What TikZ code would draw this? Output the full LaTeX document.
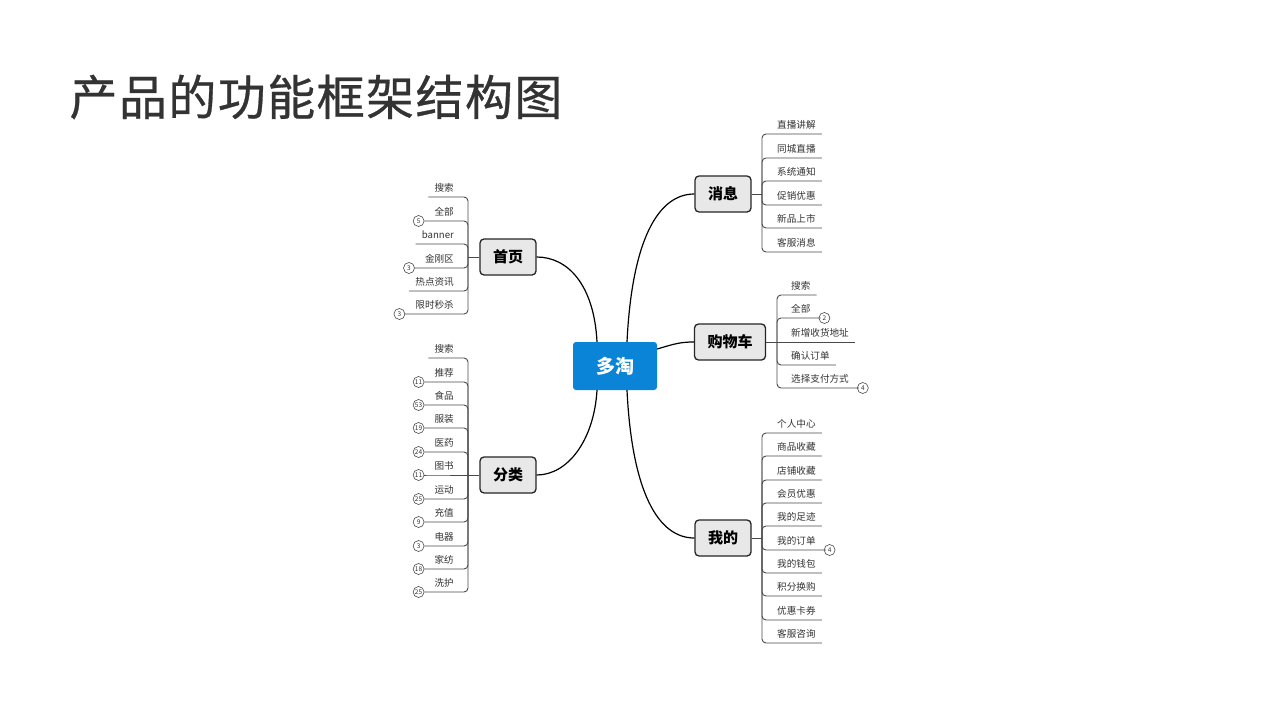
\documentclass[tikz,border=0pt]{standalone}
\usepackage{fontspec}
\setmainfont{Noto Sans CJK SC}
\usetikzlibrary{calc}
\definecolor{TaoBlue}{HTML}{0A84D6}
\definecolor{TaoGray}{HTML}{E8E8E8}
\definecolor{TaoInk}{HTML}{333333}
\definecolor{TaoLine}{HTML}{4A4A4A}

\begin{document}
\begin{tikzpicture}[x=1pt,y=-1pt,
  hub/.style={fill=TaoBlue,rounded corners=3pt,minimum width=84pt,minimum height=48pt,text=white,font=\fontsize{19}{19}\selectfont\bfseries},
  branch/.style={draw=black!85,fill=TaoGray,line width=1.3pt,rounded corners=4pt,inner xsep=13pt,minimum height=36pt,font=\fontsize{15}{15}\selectfont\bfseries},
  leaf/.style={text=TaoInk,inner xsep=6pt,inner ysep=3pt,text height=8pt,text depth=2pt,font=\fontsize{9.6}{10}\selectfont},
  leafL/.style={leaf,anchor=south east},
  leafR/.style={leaf,anchor=south west},
  badge/.style={draw=TaoLine,circle,line width=0.6pt,inner sep=0pt,minimum size=11pt,text=TaoInk,font=\fontsize{6.5}{6.5}\selectfont},
  twig/.style={TaoLine,line width=0.9pt,rounded corners=4pt},
  limb/.style={black,line width=1.2pt}]
  \path[use as bounding box,fill=white] (0,0) rectangle (1280,720);

  % title
  \node[anchor=west,text=TaoInk,font=\fontsize{48}{48}\selectfont\addfontfeatures{LetterSpace=3,FakeBold=0.6}] (title) at (66,97) {产品的功能框架结构图};

  % hub and branches
  \node[hub] (dt) at (615,366) {多淘};
  \node[branch] (sy) at (508,257) {首页};
  \node[branch] (fl) at (508,475) {分类};
  \node[branch] (xx) at (723,194) {消息};
  \node[branch] (gw) at (730,342) {购物车};
  \node[branch] (wd) at (723,538) {我的};

  \draw[limb] ($(dt.north)+(-18,0)$) .. controls (594,285) and (568,257) .. (sy.east);
  \draw[limb] ($(dt.south)+(-18,0)$) .. controls (594,440) and (568,475) .. (fl.east);
  \draw[limb] ($(dt.north)+(12,0)$) .. controls (632,240) and (658,194) .. (xx.west);
  \draw[limb] ($(dt.east)+(0,-17)$) .. controls (674,344) and (680,342) .. (gw.west);
  \draw[limb] ($(dt.south)+(12,0)$) .. controls (632,492) and (658,538) .. (wd.west);

  % 首页
  \coordinate (syJ) at (468,257);
  \node[leafL] (sy1) at (460,197) {搜索};
  \node[leafL] (sy2) at (460,221) {全部};
  \node[leafL] (sy3) at (460,244) {banner};
  \node[leafL] (sy4) at (460,268) {金刚区};
  \node[leafL] (sy5) at (460,291) {热点资讯};
  \node[leafL] (sy6) at (460,314) {限时秒杀};
  \node[badge,anchor=east] (sy2b) at ($(sy2.south west)+(-4,0)$) {5};
  \node[badge,anchor=east] (sy4b) at ($(sy4.south west)+(-4,0)$) {3};
  \node[badge,anchor=east] (sy6b) at ($(sy6.south west)+(-4,0)$) {3};
  \draw[twig] (sy.west) -- (syJ);
  \draw[twig] (syJ) |- (sy1.south west);
  \draw[twig] (syJ) |- (sy2.south west) -- (sy2b.east);
  \draw[twig] (syJ) |- (sy3.south west);
  \draw[twig] (syJ) |- (sy4.south west) -- (sy4b.east);
  \draw[twig] (syJ) |- (sy5.south west);
  \draw[twig] (syJ) |- (sy6.south west) -- (sy6b.east);

  % 分类
  \coordinate (flJ) at (468,475);
  \node[leafL] (fl1) at (460,358) {搜索};
  \node[leafL] (fl2) at (460,382) {推荐};
  \node[leafL] (fl3) at (460,405) {食品};
  \node[leafL] (fl4) at (460,428) {服装};
  \node[leafL] (fl5) at (460,452) {医药};
  \node[leafL] (fl6) at (460,475) {图书};
  \node[leafL] (fl7) at (460,499) {运动};
  \node[leafL] (fl8) at (460,522) {充值};
  \node[leafL] (fl9) at (460,546) {电器};
  \node[leafL] (fl10) at (460,569) {家纺};
  \node[leafL] (fl11) at (460,592) {洗护};
  \node[badge,anchor=east] (fl2b) at ($(fl2.south west)+(-4,0)$) {11};
  \node[badge,anchor=east] (fl3b) at ($(fl3.south west)+(-4,0)$) {53};
  \node[badge,anchor=east] (fl4b) at ($(fl4.south west)+(-4,0)$) {19};
  \node[badge,anchor=east] (fl5b) at ($(fl5.south west)+(-4,0)$) {24};
  \node[badge,anchor=east] (fl6b) at ($(fl6.south west)+(-4,0)$) {11};
  \node[badge,anchor=east] (fl7b) at ($(fl7.south west)+(-4,0)$) {25};
  \node[badge,anchor=east] (fl8b) at ($(fl8.south west)+(-4,0)$) {9};
  \node[badge,anchor=east] (fl9b) at ($(fl9.south west)+(-4,0)$) {3};
  \node[badge,anchor=east] (fl10b) at ($(fl10.south west)+(-4,0)$) {18};
  \node[badge,anchor=east] (fl11b) at ($(fl11.south west)+(-4,0)$) {25};
  \draw[twig] (fl.west) -- (flJ);
  \draw[twig] (flJ) |- (fl1.south west);
  \draw[twig] (flJ) |- (fl2.south west) -- (fl2b.east);
  \draw[twig] (flJ) |- (fl3.south west) -- (fl3b.east);
  \draw[twig] (flJ) |- (fl4.south west) -- (fl4b.east);
  \draw[twig] (flJ) |- (fl5.south west) -- (fl5b.east);
  \draw[twig] (flJ) -- (fl6.south west) -- (fl6b.east);
  \draw[twig] (flJ) |- (fl7.south west) -- (fl7b.east);
  \draw[twig] (flJ) |- (fl8.south west) -- (fl8b.east);
  \draw[twig] (flJ) |- (fl9.south west) -- (fl9b.east);
  \draw[twig] (flJ) |- (fl10.south west) -- (fl10b.east);
  \draw[twig] (flJ) |- (fl11.south west) -- (fl11b.east);

  % 消息
  \coordinate (xxJ) at (762,194);
  \node[leafR] (xx1) at (771,134) {直播讲解};
  \node[leafR] (xx2) at (771,158) {同城直播};
  \node[leafR] (xx3) at (771,181) {系统通知};
  \node[leafR] (xx4) at (771,205) {促销优惠};
  \node[leafR] (xx5) at (771,228) {新品上市};
  \node[leafR] (xx6) at (771,252) {客服消息};
  \draw[twig] (xx.east) -- (xxJ);
  \draw[twig] (xxJ) |- (xx1.south east);
  \draw[twig] (xxJ) |- (xx2.south east);
  \draw[twig] (xxJ) |- (xx3.south east);
  \draw[twig] (xxJ) |- (xx4.south east);
  \draw[twig] (xxJ) |- (xx5.south east);
  \draw[twig] (xxJ) |- (xx6.south east);

  % 购物车
  \coordinate (gwJ) at (777,342);
  \node[leafR] (gw1) at (785,295) {搜索};
  \node[leafR] (gw2) at (785,318) {全部};
  \node[leafR] (gw3) at (785,342) {新增收货地址};
  \node[leafR] (gw4) at (785,365) {确认订单};
  \node[leafR] (gw5) at (785,388) {选择支付方式};
  \node[badge,anchor=west] (gw2b) at ($(gw2.south east)+(2,0)$) {2};
  \node[badge,anchor=west] (gw5b) at ($(gw5.south east)+(2,0)$) {4};
  \draw[twig] (gw.east) -- (gwJ);
  \draw[twig] (gwJ) |- (gw1.south east);
  \draw[twig] (gwJ) |- (gw2.south east) -- (gw2b.west);
  \draw[twig] (gwJ) -- (gw3.south east);
  \draw[twig] (gwJ) |- (gw4.south east);
  \draw[twig] (gwJ) |- (gw5.south east) -- (gw5b.west);

  % 我的
  \coordinate (wdJ) at (762,538);
  \node[leafR] (wd1) at (771,433) {个人中心};
  \node[leafR] (wd2) at (771,456) {商品收藏};
  \node[leafR] (wd3) at (771,480) {店铺收藏};
  \node[leafR] (wd4) at (771,503) {会员优惠};
  \node[leafR] (wd5) at (771,526) {我的足迹};
  \node[leafR] (wd6) at (771,550) {我的订单};
  \node[leafR] (wd7) at (771,573) {我的钱包};
  \node[leafR] (wd8) at (771,596) {积分换购};
  \node[leafR] (wd9) at (771,620) {优惠卡券};
  \node[leafR] (wd10) at (771,643) {客服咨询};
  \node[badge,anchor=west] (wd6b) at ($(wd6.south east)+(2,0)$) {4};
  \draw[twig] (wd.east) -- (wdJ);
  \draw[twig] (wdJ) |- (wd1.south east);
  \draw[twig] (wdJ) |- (wd2.south east);
  \draw[twig] (wdJ) |- (wd3.south east);
  \draw[twig] (wdJ) |- (wd4.south east);
  \draw[twig] (wdJ) |- (wd5.south east);
  \draw[twig] (wdJ) |- (wd6.south east) -- (wd6b.west);
  \draw[twig] (wdJ) |- (wd7.south east);
  \draw[twig] (wdJ) |- (wd8.south east);
  \draw[twig] (wdJ) |- (wd9.south east);
  \draw[twig] (wdJ) |- (wd10.south east);
\end{tikzpicture}
\end{document}
